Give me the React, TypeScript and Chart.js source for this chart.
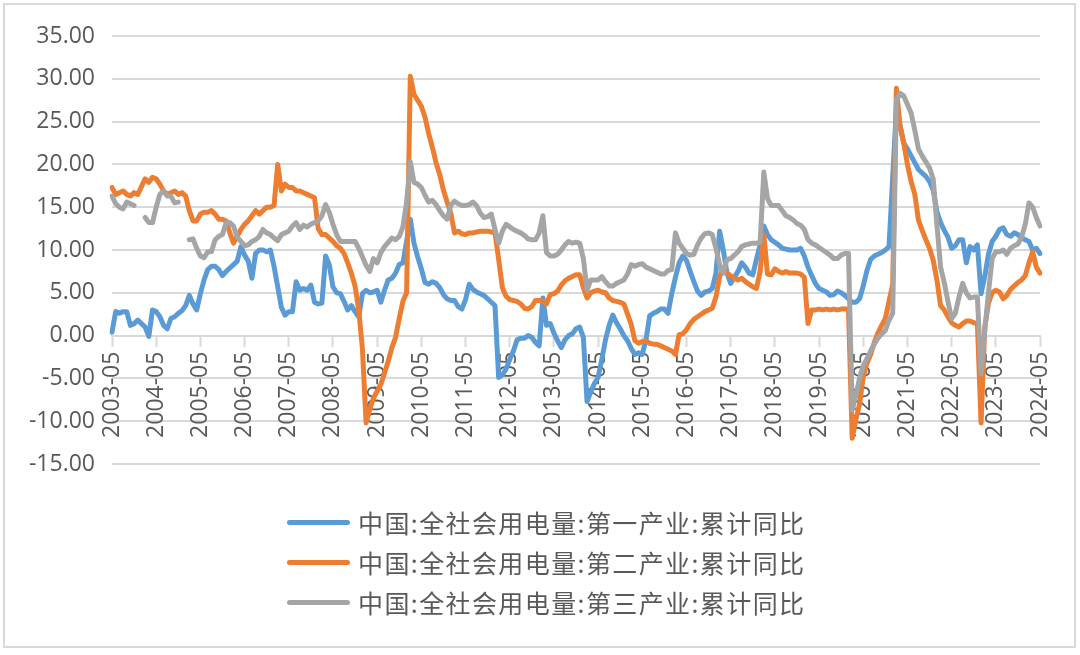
import React, { useEffect, useRef } from 'react';
import { Chart, registerables } from 'chart.js';

Chart.register(...registerables);

const START_YEAR = 2003;
const START_MONTH = 5;
const POINT_COUNT = 253;
const LABEL_EVERY = 12;

const CATEGORIES: string[] = [];
for (let k = 0; k < POINT_COUNT; k++) {
  const m = START_MONTH - 1 + k;
  const y = START_YEAR + Math.floor(m / 12);
  const mm = (m % 12) + 1;
  CATEGORIES.push(`${y}-${String(mm).padStart(2, '0')}`);
}

const SERIES_NAMES = [
  '中国:全社会用电量:第一产业:累计同比',
  '中国:全社会用电量:第二产业:累计同比',
  '中国:全社会用电量:第三产业:累计同比',
];

const PRIMARY: (number | null)[] = [
  0.4, 2.8, 2.6, 2.8, 2.8, 1.2, 1.4, 1.8, 1.4, 1.0, -0.1, 3.0,
  2.8, 2.2, 1.2, 0.8, 2.0, 2.2, 2.6, 2.9, 3.5, 4.7, 3.7, 3.0,
  4.9, 6.5, 7.7, 8.1, 8.1, 7.7, 7.0, 7.5, 7.9, 8.3, 8.7, 10.4,
  9.4, 8.7, 6.7, 9.6, 10.0, 10.0, 9.8, 10.0, 8.1, 5.7, 3.3, 2.4,
  2.8, 2.8, 6.3, 5.3, 5.5, 5.3, 5.9, 3.9, 3.7, 3.8, 9.3, 8.3,
  5.7, 5.0, 4.9, 4.0, 3.0, 3.5, 2.8, 2.2, 4.9, 5.3, 5.0, 5.1,
  5.3, 3.9, 5.3, 6.5, 6.7, 7.3, 8.3, 8.5, 11.0, 13.6, 10.8, 9.2,
  7.8, 6.2, 6.0, 6.3, 6.1, 5.6, 4.8, 4.3, 4.1, 4.1, 3.4, 3.1,
  4.2, 6.0, 5.4, 5.1, 4.9, 4.7, 4.3, 3.9, 3.5, -4.9, -4.6, -3.9,
  -2.8, -1.8, -0.5, -0.3, -0.3, 0.0, -0.2, -0.8, -1.2, 4.4, 1.2, 1.4,
  0.3, -0.6, -1.4, -0.5, 0.0, 0.2, 0.8, 1.0, -0.2, -7.7, -6.6, -5.6,
  -4.9, -2.8, -0.5, 1.2, 2.4, 1.5, 0.8, 0.0, -0.6, -1.5, -2.2, -2.0,
  -2.2, -0.5, 2.3, 2.6, 2.8, 3.1, 3.1, 2.6, 4.9, 6.8, 8.5, 9.3,
  8.8, 7.5, 6.3, 5.2, 4.7, 5.1, 5.2, 5.5, 7.3, 12.2, 10.0, 7.3,
  6.1, 6.8, 7.5, 8.5, 8.0, 7.3, 7.1, 8.9, 10.6, 12.8, 11.8, 11.2,
  10.9, 10.6, 10.2, 10.1, 10.0, 10.0, 10.0, 10.2, 9.3, 8.0, 7.0, 6.1,
  5.5, 5.3, 5.1, 4.7, 4.8, 5.2, 5.0, 4.7, 4.3, 3.9, 3.9, 4.3,
  5.8, 7.6, 8.9, 9.3, 9.5, 9.7, 10.0, 10.4, 18.5, 26.5, 24.5, 22.5,
  21.8, 21.0, 20.2, 19.4, 19.0, 18.6, 18.0, 17.0, 14.5, 13.2, 12.3, 11.5,
  10.2, 10.5, 11.2, 11.2, 8.5, 10.4, 10.0, 10.6, 4.9, 6.9, 9.5, 11.0,
  11.6, 12.4, 12.6, 11.8, 11.6, 12.0, 11.8, 11.4, 11.2, 11.0, 10.0, 10.2,
  9.6,
];

const SECONDARY: (number | null)[] = [
  17.3, 16.5, 16.7, 16.9, 16.5, 16.3, 16.7, 16.5, 17.4, 18.3, 17.9, 18.5,
  18.3, 17.7, 16.9, 16.5, 16.7, 16.9, 16.5, 16.7, 16.3, 14.6, 13.4, 13.4,
  14.2, 14.4, 14.4, 14.6, 14.2, 13.6, 13.6, 13.4, 12.0, 10.8, 11.6, 12.4,
  13.0, 13.4, 14.0, 14.6, 14.2, 14.6, 15.0, 15.0, 15.2, 20.0, 16.9, 17.7,
  17.3, 17.3, 16.9, 16.9, 16.7, 16.5, 16.3, 16.1, 12.5, 11.8, 11.8, 11.4,
  11.0, 10.5, 10.2, 9.6, 8.5, 7.3, 5.8, 3.0, -1.5, -10.2, -8.6, -7.3,
  -6.5, -5.7, -4.4, -3.0, -1.4, -0.2, 2.0, 4.0, 5.0, 30.3, 28.2, 27.5,
  26.8, 25.5, 23.6, 22.0, 20.2, 18.8, 17.0, 15.6, 14.3, 12.0, 12.2, 11.9,
  11.8, 12.0, 12.0, 12.1, 12.2, 12.2, 12.2, 12.1, 12.0, 8.9, 5.6, 4.6,
  4.2, 4.1, 4.0, 3.7, 3.2, 3.1, 3.4, 4.1, 4.1, 4.0, 3.7, 4.8,
  4.9, 5.2, 5.9, 6.4, 6.7, 6.9, 7.1, 7.1, 5.6, 4.4, 5.0, 5.2,
  5.3, 5.1, 5.0, 4.4, 4.1, 4.0, 3.9, 3.7, 2.5, 1.3, -0.6, -0.9,
  -0.7, -0.6, -0.9, -1.0, -1.0, -1.2, -1.4, -1.6, -1.8, -2.2, 0.1, 0.2,
  0.7, 1.4, 1.9, 2.2, 2.5, 2.8, 3.0, 3.2, 4.5, 6.9, 7.9, 7.3,
  7.0, 6.7, 6.5, 6.7, 6.3, 6.0, 5.7, 5.5, 7.5, 11.8, 7.2, 7.1,
  7.8, 7.5, 7.3, 7.5, 7.3, 7.3, 7.3, 7.2, 6.8, 1.4, 3.0, 3.0,
  3.1, 3.0, 3.1, 3.0, 3.1, 3.0, 3.1, 3.1, 3.1, -12.0, -9.8, -8.0,
  -4.8, -3.2, -2.2, -0.8, 0.3, 1.2, 2.0, 4.0, 6.0, 28.9, 24.5, 22.5,
  20.0, 18.0, 16.5, 13.5, 12.3, 11.2, 10.2, 8.8, 6.5, 3.5, 3.0, 2.2,
  1.5, 1.2, 1.0, 1.4, 1.7, 1.7, 1.5, 1.4, -10.2, 1.0, 3.8, 5.0,
  5.3, 5.1, 4.3, 4.7, 5.4, 5.8, 6.2, 6.5, 7.0, 8.5, 9.8, 8.0,
  7.3,
];

const TERTIARY: (number | null)[] = [
  16.3, 15.4, 15.0, 14.8, 15.6, 15.4, 15.2, null, null, 13.8, 13.2, 13.2,
  15.0, 16.5, 16.9, 16.3, 16.3, 15.5, 15.6, null, null, 11.2, 11.3, 10.2,
  9.3, 9.1, 9.8, 9.8, 11.2, 11.6, 11.8, 13.2, 13.2, 12.8, 11.5, 11.0,
  10.5, 10.6, 11.0, 11.2, 11.6, 12.4, 12.0, 11.8, 11.4, 11.1, 11.8, 12.0,
  12.2, 12.8, 13.2, 12.4, 12.9, 12.7, 13.0, 13.2, 13.4, 14.0, 15.3, 14.4,
  13.0, 11.8, 11.0, 11.0, 11.0, 11.0, 11.0, 10.2, 9.2, 8.2, 7.5, 9.0,
  8.5, 9.7, 10.4, 10.9, 11.4, 11.2, 11.6, 12.7, 15.6, 20.3, 17.9, 17.7,
  17.3, 16.4, 15.6, 15.8, 15.3, 14.6, 14.0, 13.6, 15.2, 15.7, 15.4, 15.2,
  15.2, 15.3, 15.6, 15.2, 14.3, 13.8, 13.9, 14.2, 12.4, 10.8, 12.2, 13.0,
  12.7, 12.4, 12.2, 12.0, 11.7, 11.3, 11.2, 11.2, 12.0, 14.0, 9.7, 9.3,
  9.3, 9.5, 10.0, 10.6, 11.0, 10.8, 10.9, 10.8, 9.0, 5.3, 6.5, 6.5,
  6.5, 6.9, 6.3, 5.8, 5.8, 6.1, 6.3, 6.5, 7.2, 8.3, 8.1, 8.3,
  8.4, 8.0, 7.8, 7.6, 7.4, 7.2, 7.2, 7.6, 7.7, 12.0, 10.8, 10.2,
  9.6, 9.4, 9.5, 10.6, 11.4, 11.9, 12.0, 11.8, 10.2, 8.3, 7.3, 8.9,
  9.0, 9.4, 9.8, 10.4, 10.6, 10.7, 10.8, 10.8, 10.9, 19.1, 16.0, 15.2,
  15.2, 15.2, 14.6, 14.0, 13.8, 13.5, 13.1, 12.9, 12.4, 11.2, 10.8, 10.6,
  10.3, 10.0, 9.7, 9.4, 9.0, 9.0, 9.4, 9.6, 9.6, -8.7, -7.0, -5.0,
  -3.5, -2.7, -1.8, -1.0, -0.3, 0.2, 0.6, 1.8, 2.6, 27.5, 28.3, 28.0,
  27.0, 26.0, 24.0, 21.8, 21.0, 20.3, 19.6, 18.3, 13.0, 8.0, 6.2, 4.0,
  2.0, 2.6, 4.5, 6.1, 5.0, 4.4, 4.5, 4.5, -4.5, 0.5, 5.0, 9.0,
  9.8, 9.8, 10.0, 9.5, 10.2, 10.5, 10.7, 11.5, 13.0, 15.5, 15.0, 13.8,
  12.8,
];

const COLORS = ['#5B9BD5', '#ED7D31', '#A5A5A5'];
const Y_MIN = -15;
const Y_MAX = 35;
const Y_STEP = 5;

const TEXT_COLOR = '#595959';
const GRID_COLOR = '#d9d9d9';
const NUM_FONT = '"Open Sans", "Noto Sans", sans-serif';
const CJK_FONT = '"Noto Sans CJK SC", "Noto Sans", sans-serif';

export default function App() {
  const canvasRef = useRef<HTMLCanvasElement | null>(null);

  useEffect(() => {
    document.body.style.margin = '0';
    const canvas = canvasRef.current;
    if (!canvas) return;
    const seriesData = [PRIMARY, SECONDARY, TERTIARY];
    const chart = new Chart(canvas, {
      type: 'line',
      data: {
        labels: CATEGORIES,
        datasets: seriesData.map((d, i) => ({
          label: SERIES_NAMES[i],
          data: d,
          borderColor: COLORS[i],
          backgroundColor: COLORS[i],
          borderWidth: 5,
          pointRadius: 0,
          pointHoverRadius: 0,
          tension: 0,
          spanGaps: false,
          borderJoinStyle: 'round' as const,
          borderCapStyle: 'round' as const,
          order: 2 - i,
        })),
      },
      options: {
        animation: false,
        responsive: false,
        devicePixelRatio: 1,
        layout: { padding: { left: 0, right: 40, top: 36, bottom: 191 } },
        plugins: {
          legend: { display: false },
          tooltip: { enabled: false },
        },
        scales: {
          x: {
            type: 'category',
            position: { y: 0 } as any,
            offset: false,
            grid: {
              drawOnChartArea: false,
              drawTicks: true,
              tickLength: 10,
              tickWidth: 2,
              tickColor: GRID_COLOR,
            },
            border: { display: true, color: GRID_COLOR, width: 2 },
            ticks: {
              autoSkip: false,
              minRotation: 90,
              maxRotation: 90,
              padding: 6,
              color: TEXT_COLOR,
              font: { family: NUM_FONT, size: 23 },
            },
            afterBuildTicks: (s: any) => {
              s.ticks = s.ticks.filter((_t: any, i: number) => i % LABEL_EVERY === 0);
            },
            afterFit: (s: any) => {
              s.height = 0;
            },
          },
          y: {
            type: 'linear',
            min: Y_MIN,
            max: Y_MAX,
            grid: { color: GRID_COLOR, lineWidth: 2, drawTicks: false },
            border: { display: false },
            ticks: {
              stepSize: Y_STEP,
              padding: 17,
              color: TEXT_COLOR,
              font: { family: NUM_FONT, size: 23 },
              callback: (v: any) => Number(v).toFixed(2),
            },
            afterFit: (s: any) => {
              s.width = 112;
            },
          },
        },
      },
    });
    return () => chart.destroy();
  }, []);

  return (
    <div style={{ position: 'fixed', left: 0, top: 0, width: 1080, height: 655, background: '#fff' }}>
      <canvas ref={canvasRef} width={1080} height={655} style={{ width: 1080, height: 655, display: 'block' }} />
      <div
        style={{
          position: 'absolute',
          left: 3,
          top: 3,
          width: 1073,
          height: 645,
          border: `2px solid ${GRID_COLOR}`,
          boxSizing: 'border-box',
          pointerEvents: 'none',
        }}
      />
      <div style={{ position: 'absolute', left: 287, top: 502 }}>
        {SERIES_NAMES.map((name, i) => (
          <div key={name} style={{ display: 'flex', alignItems: 'center', height: 40 }}>
            <div style={{ width: 63, height: 5, borderRadius: 3, background: COLORS[i], marginRight: 8 }} />
            <span
              style={{
                fontFamily: CJK_FONT,
                fontSize: 25,
                letterSpacing: '1.4px',
                color: TEXT_COLOR,
                whiteSpace: 'nowrap',
                lineHeight: '40px',
              }}
            >
              {name}
            </span>
          </div>
        ))}
      </div>
    </div>
  );
}
